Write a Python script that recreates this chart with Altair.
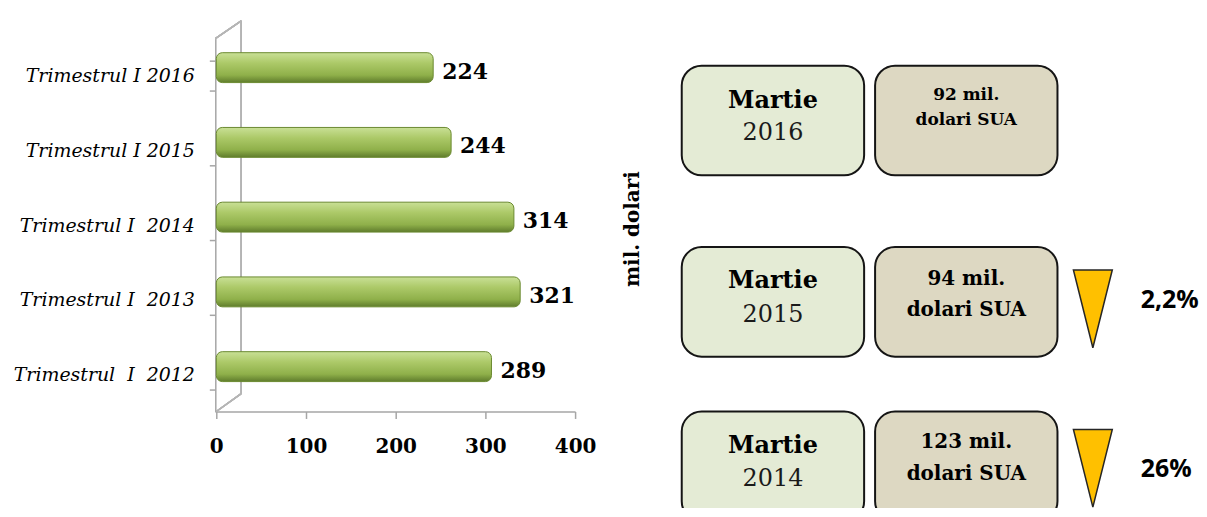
import altair as alt
import pandas as pd

# ---------------- data ----------------
categories = ["Trimestrul I 2016", "Trimestrul I 2015", "Trimestrul I  2014",
              "Trimestrul I  2013", "Trimestrul  I  2012"]
values = [224, 244, 314, 321, 289]
x_ticks = [0, 100, 200, 300, 400]

luni = ["Martie", "Martie", "Martie"]
ani = ["2016", "2015", "2014"]
sume = ["92 mil.", "94 mil.", "123 mil."]
unitati = ["dolari SUA", "dolari SUA", "dolari SUA"]
variatii = ["", "2,2%", "26%"]
coloane = ["perioada", "valoare"]

W, H = 1195, 500

bars_df = pd.DataFrame({"cat": categories, "val": values})

rows = []
for l, a, s, u, v in zip(luni, ani, sume, unitati, variatii):
    rows.append({"an": a, "col": "perioada", "line1": l, "line2": a, "variatie": v})
    rows.append({"an": a, "col": "valoare", "line1": s, "line2": u, "variatie": v})
box_df = pd.DataFrame(rows)

# ---------------- left: bar chart ----------------
xs = alt.Scale(domain=[0, 400], range=[209, 569], nice=False, zero=True)
ys = alt.Scale(domain=categories, range=[21.5, 396.5], paddingInner=0.6, paddingOuter=0.3)

grad = alt.LinearGradient(
    gradient="linear", x1=0, x2=0, y1=0, y2=1,
    stops=[alt.GradientStop(offset=0, color="#c9e096"),
           alt.GradientStop(offset=0.35, color="#acc968"),
           alt.GradientStop(offset=0.75, color="#8fb04a"),
           alt.GradientStop(offset=1, color="#5f7c2c")])

x_axis = alt.Axis(values=x_ticks, orient="bottom", offset=404 - H, title=None, grid=False,
                  domainColor="#a6a6a6", domainWidth=1.5, tickColor="#a6a6a6", tickWidth=1.5,
                  tickSize=7, labelFont="DejaVu Serif", labelFontWeight="bold", labelFontSize=20,
                  labelColor="black", labelPadding=28, labelBaseline="middle",
                  labelFlush=False, labelOverlap=False, format="d")
y_axis = alt.Axis(orient="left", offset=-200, translate=8.5, title=None, grid=False,
                  domainColor="#a6a6a6", domainWidth=1.5, tickColor="#a6a6a6", tickWidth=1.5,
                  tickSize=6, tickBand="extent", labelFont="DejaVu Serif", labelFontStyle="italic",
                  labelFontSize=19, labelColor="black", labelPadding=15, labelLimit=0,
                  labelExpr="replace(datum.label, /  /g, ' \u00a0')")

base = alt.Chart(bars_df)

# 3D back wall and its two diagonals (decoration)
wall = base.mark_rule(color="#b5b5b5", strokeWidth=1.5, xOffset=25).encode(
    x=alt.datum(0), y=alt.value(12), y2=alt.value(386))
wall_top = base.mark_rule(color="#b5b5b5", strokeWidth=1.5, xOffset=-1, x2Offset=25).encode(
    x=alt.datum(0), x2=alt.datum(0), y=alt.value(30), y2=alt.value(12))
wall_floor = base.mark_rule(color="#b5b5b5", strokeWidth=1.5, xOffset=0, x2Offset=25).encode(
    x=alt.datum(0), x2=alt.datum(0), y=alt.value(404), y2=alt.value(386))

bars = base.mark_bar(color=grad, stroke="#6a8a30", strokeWidth=1, xOffset=16, x2Offset=10,
                     cornerRadius=6).encode(
    x=alt.X("val:Q", scale=xs, axis=x_axis, stack=None),
    y=alt.Y("cat:N", scale=ys, axis=y_axis, sort=categories))

labels = base.mark_text(align="left", baseline="middle", dx=25, dy=4, font="DejaVu Serif",
                        fontWeight="bold", fontSize=22, color="black").encode(
    x="val:Q", y=alt.Y("cat:N", sort=categories), text="val:Q")

left = alt.layer(wall, wall_top, wall_floor, bars, labels)

# ---------------- right: info boxes ----------------
xr = alt.Scale(domain=coloane, range=[676, 1053], paddingInner=0.0567, paddingOuter=0)
yr = alt.Scale(domain=ani, range=[58, 514], paddingInner=0.3642, paddingOuter=0)

ry_axis = alt.Axis(orient="left", offset=-633, domain=False, ticks=False, labels=False, grid=False,
                   title="mil. dolari", titleAngle=270, titleX=0, titleY=220.5,
                   titleAlign="center", titleBaseline="alphabetic", titleFont="DejaVu Serif",
                   titleFontWeight="bold", titleFontSize=20, titleColor="black")

rb = alt.Chart(box_df)
enc = dict(x=alt.X("col:N"), y=alt.Y("an:N", sort=ani))

# per-row layout tweaks (pixel nudges, not data)
row_style = {
    "2016": dict(shift=-1, luna=-20, an=13, v1=-26, v2=0, vsize=17, tri=0, pct=0),
    "2015": dict(shift=8, luna=-21, an=13, v1=-23, v2=8, vsize=20, tri=7, pct=-2),
    "2014": dict(shift=0, luna=-20, an=13, v1=-24, v2=8, vsize=20, tri=2, pct=3),
}

layers = [rb.mark_rect(opacity=0).encode(
    x=alt.X("col:N", scale=xr, axis=None),
    y=alt.Y("an:N", scale=yr, axis=ry_axis, sort=ani))]

for a in ani:
    st = row_style[a]
    sh = st["shift"]
    r = rb.transform_filter(f"datum.an == '{a}'")
    rp = r.transform_filter("datum.col == 'perioada'")
    rv = r.transform_filter("datum.col == 'valoare'")
    layers.append(r.mark_rect(cornerRadius=20, stroke="#151515", strokeWidth=2,
                              yOffset=sh, y2Offset=sh).encode(
        color=alt.Color("col:N", scale=alt.Scale(domain=coloane, range=["#e4ebd5", "#ddd8c2"]),
                        legend=None), **enc))
    layers.append(rp.mark_text(baseline="middle", dy=sh + st["luna"], font="DejaVu Serif",
                               fontWeight="bold", fontSize=24, color="black").encode(
        text="line1:N", **enc))
    layers.append(rp.mark_text(baseline="middle", dy=sh + st["an"], font="DejaVu Serif",
                               fontWeight="normal", fontSize=24, color="#1a1a1a").encode(
        text="line2:N", **enc))
    layers.append(rv.mark_text(baseline="middle", dy=sh + st["v1"], font="DejaVu Serif",
                               fontWeight="bold", fontSize=st["vsize"], color="black").encode(
        text="line1:N", **enc))
    layers.append(rv.mark_text(baseline="middle", dy=sh + st["v2"], font="DejaVu Serif",
                               fontWeight="bold", fontSize=st["vsize"], color="black").encode(
        text="line2:N", **enc))
    chg = rv.transform_filter("datum.variatie != ''")
    layers.append(chg.mark_point(shape="M-0.5,-1L0.5,-1L0,1Z", size=6084, filled=True,
                                 fill="#ffc000", stroke="#262626", strokeWidth=1.5, opacity=1,
                                 xOffset=127, yOffset=sh + st["tri"]).encode(**enc))
    layers.append(chg.mark_text(align="left", baseline="middle", xOffset=175,
                                dy=sh + st["pct"], font="Open Sans", fontWeight="bold",
                                fontSize=25, color="black").encode(text="variatie:N", **enc))

right = alt.layer(*layers)

chart = alt.layer(left, right).resolve_scale(
    x="independent", y="independent", color="independent"
).properties(
    width=W, height=H, autosize=alt.AutoSizeParams(type="none"), padding=0,
    background="white"
).configure_view(stroke=None)

chart.save("out.html", embed_options={"renderer": "svg", "actions": False})
